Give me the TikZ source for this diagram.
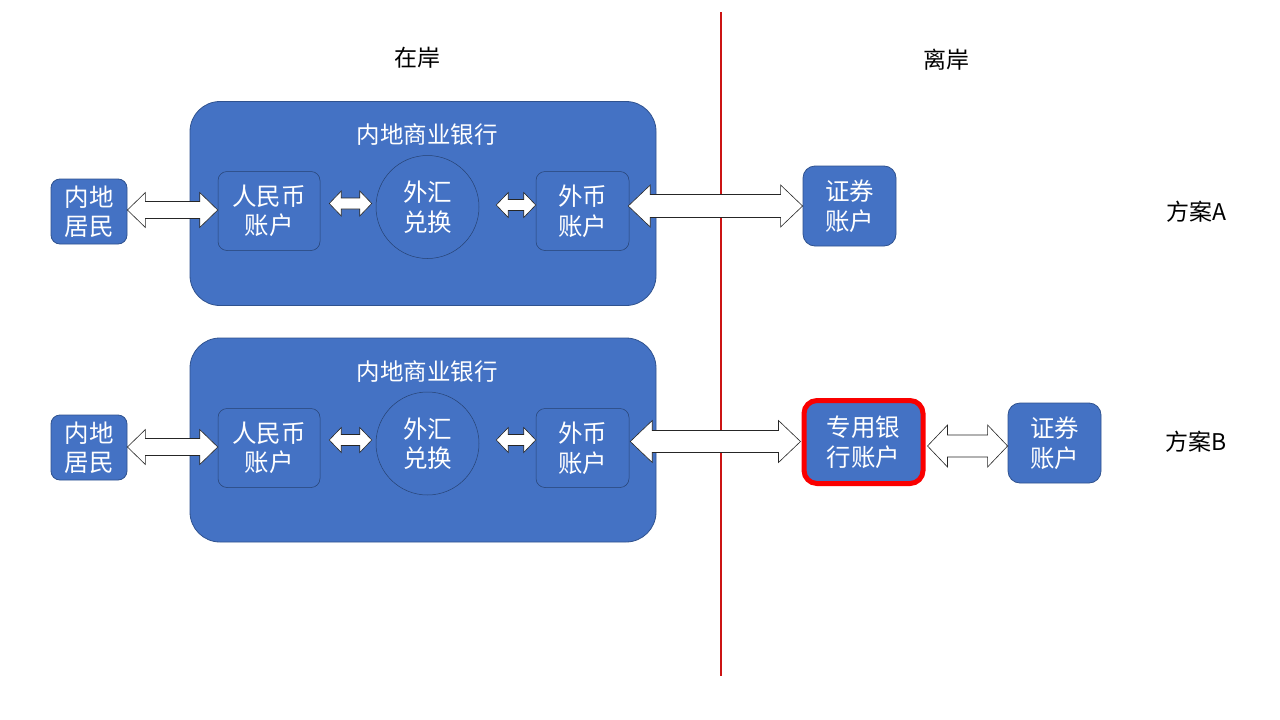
\documentclass[tikz,border=0pt]{standalone}
\usepackage{fontspec}
\setmainfont{Noto Sans CJK SC}
\usetikzlibrary{calc}
\definecolor{bfill}{HTML}{4472C4}
\definecolor{bline}{HTML}{2F528F}
\definecolor{vred}{RGB}{204,20,20}
\definecolor{bred}{RGB}{250,0,0}
\tikzset{
  bank/.style={draw=bline, line width=0.8pt, fill=bfill, rounded corners=30pt, minimum width=466pt, minimum height=204pt, inner sep=0pt},
  outbox/.style={draw=bline, line width=0.8pt, fill=bfill, rounded corners=9pt, inner sep=0pt, text=white, align=center, font=\fontsize{24.5}{29.5}\selectfont},
  inbox/.style={draw=bline!80!black, line width=0.5pt, fill=bfill, rounded corners=9pt, inner sep=0pt, text=white, align=center, font=\fontsize{24.5}{29.5}\selectfont, minimum height=79pt},
  fxcirc/.style={circle, draw=bline!80!black, line width=0.5pt, fill=bfill, minimum size=103pt, inner sep=0pt, text=white, align=center, font=\fontsize{24.5}{29.5}\selectfont},
  banktitle/.style={text=white, font=\fontsize{23.5}{28}\selectfont, inner sep=0pt},
  lbl/.style={text=black, font=\fontsize{23}{28}\selectfont, inner sep=0pt},
  dbl/.style={draw=black!85, line width=0.6pt, fill=white, line join=miter},
}
% #1 left end, #2 right end, #3 half head height, #4 half body height, #5 head length
\newcommand\dbarrow[5]{%
  \draw[dbl] let \p1=#1, \p2=#2 in
    (\x1,\y1) -- (\x1+#5,\y1+#3) -- (\x1+#5,\y1+#4) -- (\x2-#5,\y1+#4) -- (\x2-#5,\y1+#3)
    -- (\x2,\y1) -- (\x2-#5,\y1-#3) -- (\x2-#5,\y1-#4) -- (\x1+#5,\y1-#4) -- (\x1+#5,\y1-#3) -- cycle;}
\begin{document}
\begin{tikzpicture}[x=1pt,y=-1pt]
\useasboundingbox (0,0) rectangle (1280,720);
\fill[white] (0,0) rectangle (1280,720);

% divider
\coordinate (lt) at (720.5,12);
\coordinate (lb) at (720.5,676);
\draw[vred, line width=2pt] (lt) -- (lb);

\node[lbl] (onshore) at (417,58) {在岸};
\node[lbl] (offshore) at (946,60) {离岸};
\node[lbl] (planA) at (1196,212) {方案A};
\node[lbl] (planB) at (1196,442) {方案B};

% ---- plan A
\node[bank] (bankA) at (423,203.5) {};
\node[banktitle] (titleA) at (427,135) {内地商业银行};
\node[outbox, minimum width=76pt, minimum height=65pt] (jmA) at (89,211.5) {内地\\居民};
\node[inbox, minimum width=102pt] (rmbA) at (269,211) {人民币\\账户};
\node[fxcirc] (fxA) at (427.5,207) {外汇\\兑换};
\node[inbox, minimum width=93pt] (wbA) at (582.5,211) {外币\\账户};
\node[outbox, minimum width=93pt, minimum height=80pt, rounded corners=12pt] (zqA) at (849.5,206) {证券\\账户};

\dbarrow{($(jmA.east)+(0,-1.5)$)}{(rmbA.west)}{17.5pt}{8.5pt}{18pt}
\dbarrow{($(rmbA.east)+(9,-7.5)$)}{($(fxA.west)+(-4,0)$)}{12.5pt}{5.5pt}{12pt}
\dbarrow{($(fxA.east)+(17,-2)$)}{($(wbA.west)+(0,0)$)}{12.5pt}{5.5pt}{12pt}
\dbarrow{($(wbA.east)+(-1,-5)$)}{(zqA.west)}{21pt}{11.5pt}{22pt}

% ---- plan B
\node[bank] (bankB) at (423,440) {};
\node[banktitle] (titleB) at (427,372) {内地商业银行};
\node[outbox, minimum width=76pt, minimum height=65pt] (jmB) at (89,447.5) {内地\\居民};
\node[inbox, minimum width=102pt] (rmbB) at (269,448) {人民币\\账户};
\node[fxcirc] (fxB) at (427.5,443.5) {外汇\\兑换};
\node[inbox, minimum width=93pt] (wbB) at (582.5,448) {外币\\账户};
\node[outbox, draw=bred, line width=5pt, minimum width=119pt, minimum height=83pt, rounded corners=13pt] (zyB) at (863.5,442) {专用银\\行账户};
\node[outbox, minimum width=93pt, minimum height=80pt, rounded corners=12pt] (zqB) at (1054.5,443) {证券\\账户};

\dbarrow{($(jmB.east)+(0,-0.5)$)}{(rmbB.west)}{17.5pt}{8.5pt}{18pt}
\dbarrow{($(rmbB.east)+(9,-8)$)}{($(fxB.west)+(-4,0)$)}{12.5pt}{5.5pt}{12pt}
\dbarrow{($(fxB.east)+(17,-3.5)$)}{($(wbB.west)+(0,0)$)}{12.5pt}{5.5pt}{12pt}
\dbarrow{($(wbB.east)+(1,-6.5)$)}{($(zyB.west)+(-1,0)$)}{21pt}{11pt}{22pt}
\dbarrow{($(zyB.east)+(2,4)$)}{(zqB.west)}{21pt}{11pt}{20pt}
\end{tikzpicture}
\end{document}
